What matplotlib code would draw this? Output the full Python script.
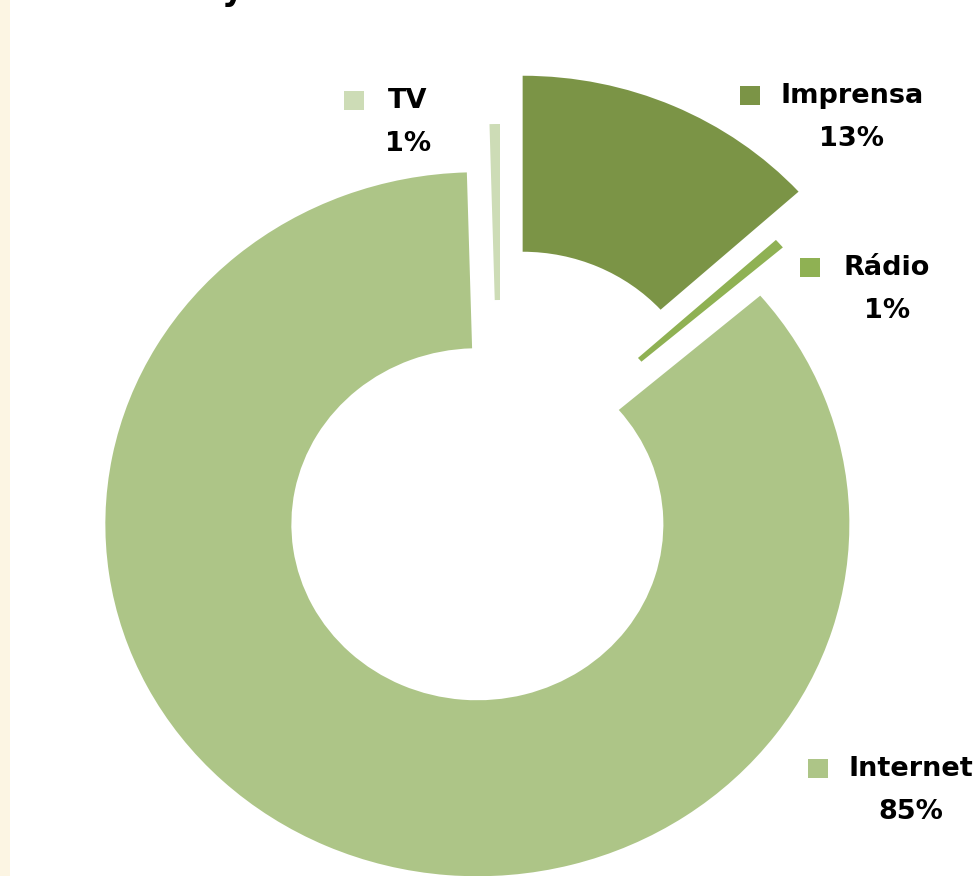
import matplotlib
matplotlib.use('Agg')
import matplotlib.pyplot as plt
from matplotlib.patches import Rectangle

# data (clockwise from 12 o'clock)
categories = ['Imprensa', 'Rádio', 'Internet', 'TV']
shares = [13.3, 0.45, 85.8, 0.45]
pct_labels = ['13%', '1%', '85%', '1%']
colors = ['#7b9446', '#8fb153', '#adc587', '#cddcb6']
explode = [0.15, 0.0, 0.15, 0.0]

# label anchors in pixels (x of text centre, y of first line), marker left edge
label_pos = [(852, 96, 740), (887, 268, 800), (911, 769, 808), (408, 101, 344)]

W, H = 979, 876
fig = plt.figure(figsize=(W / 100, H / 100), dpi=100)
ax = fig.add_axes([0, 0, 1, 1])

wedges, _ = ax.pie(shares, colors=colors, explode=explode, startangle=90,
                   counterclock=False, radius=1.0,
                   wedgeprops=dict(width=0.5, linewidth=0))

# the original is slightly squashed vertically
cx, cy = 500, H - 476
rx, ry = 372, 352
ax.set_aspect('auto')
ax.set_xlim(-cx / rx, (W - cx) / rx)
ax.set_ylim(-cy / ry, (H - cy) / ry)
ax.axis('off')

# cream strip on the left
fig.add_artist(Rectangle((0, 0), 10 / W, 1, transform=fig.transFigure,
                         facecolor='#fcf5e3', edgecolor='none'))

# tail of the cropped title
fig.text(232 / W, 1.0, 'y', ha='center', va='baseline', fontsize=24,
         fontweight='bold', color='black')

for name, pct, col, (tx, ty, mx) in zip(categories, pct_labels, colors, label_pos):
    fig.add_artist(Rectangle((mx / W, 1 - (ty + 9) / H), 20 / W, 19 / H,
                             transform=fig.transFigure, facecolor=col,
                             edgecolor='none'))
    fig.text(tx / W, 1 - ty / H, name, ha='center', va='center',
             fontsize=19.5, fontweight='bold', color='black')
    fig.text(tx / W, 1 - (ty + 43) / H, pct, ha='center',
             va='center', fontsize=19.5, fontweight='bold', color='black')

fig.savefig('out.png', dpi=100, facecolor='white')
